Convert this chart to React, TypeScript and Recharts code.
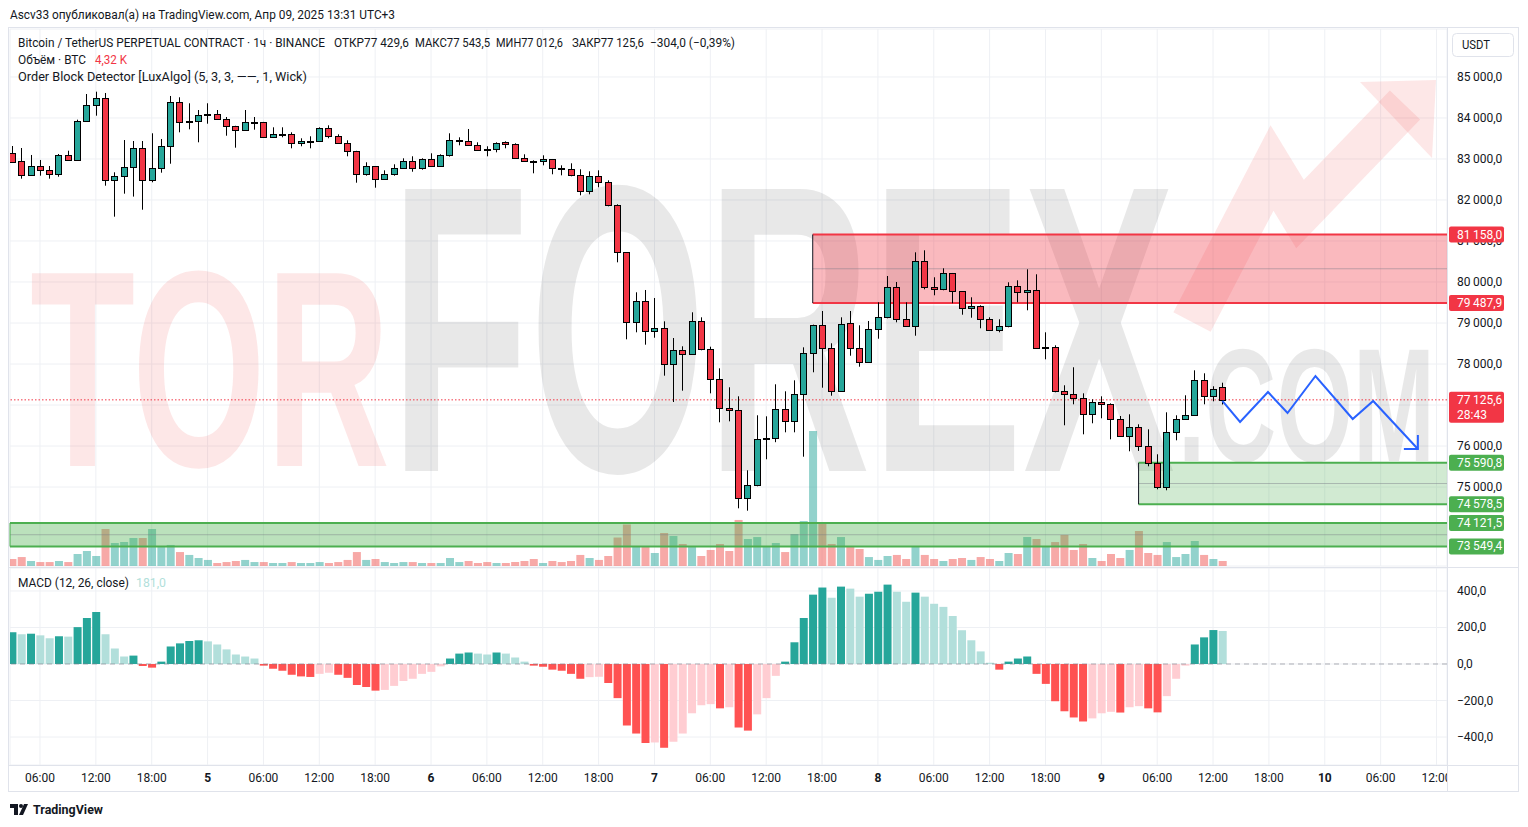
import React from "react";
import {
  ComposedChart,
  Bar,
  Line,
  XAxis,
  YAxis,
  CartesianGrid,
  ReferenceArea,
  ReferenceLine,
  Cell,
} from "recharts";

// ---------------- data ----------------
const openP = [
  83139, 82944, 82602, 82822, 82724, 82627, 83098, 82970, 83927, 84317,
  84480, 82480, 82578, 82798, 83261, 82480, 82773, 83310, 84383, 83920,
  83930, 84080, 84090, 83968, 83798, 83700, 83890, 83895, 83529, 83600,
  83602, 83383, 83430, 83432, 83749, 83554, 83383, 83188, 82641, 82822,
  82520, 82641, 82773, 82944, 82773, 82993, 82822, 83090, 83450, 83432,
  83334, 83236, 83236, 83407, 83359, 83017, 82950, 82944, 82993, 82775,
  82749, 82602, 82212, 82578, 82432, 81871, 80724, 79017, 79529, 78798,
  78871, 77993, 78334, 78237, 79041, 78359, 77627, 76920, 76871, 74724,
  75041, 76170, 76190, 76895, 76602, 77261, 78261, 78944, 78383, 77334,
  78993, 78383, 78041, 78846, 79139, 79871, 79090, 78920, 80505, 79871,
  79822, 80212, 79773, 79359, 79407, 79090, 78822, 78920, 79895, 79749,
  79798, 78400, 78407, 77334, 77261, 77163, 76773, 77066, 77017, 76651,
  76237, 76456, 75993, 75578, 74993, 76334, 76651, 76749, 77602, 77212,
  77429.6,
];
const highP = [
  83317, 83268, 83098, 82976, 82829, 83122, 83202, 83959, 84585, 84642,
  84610, 82676, 83463, 83439, 83439, 83627, 83488, 84537, 84505, 84359,
  84195, 84359, 84195, 84024, 83810, 84195, 84024, 83905, 83773, 83773,
  83651, 83505, 83554, 83773, 83822, 83602, 83456, 83200, 82920, 82830,
  82724, 82871, 83017, 83066, 83017, 83139, 83115, 83627, 83529, 83732,
  83407, 83310, 83407, 83432, 83383, 83115, 82968, 83090, 83000, 82846,
  82895, 82749, 82700, 82724, 82480, 81895, 80730, 79749, 79805, 79610,
  79041, 78634, 78432, 79261, 79139, 78422, 77895, 77432, 77212, 75407,
  76749, 76724, 77505, 77334, 77602, 78407, 78960, 79293, 78505, 79139,
  79293, 78944, 79049, 79505, 80146, 80000, 79505, 80724, 80773, 80115,
  80334, 80220, 79780, 79627, 79432, 79139, 79090, 79993, 80041, 80310,
  80188, 78773, 78456, 77481, 77920, 77285, 77139, 77212, 77041, 76732,
  76773, 76529, 76407, 75798, 76822, 76749, 77237, 77846, 77773, 77456,
  77543.5,
];
const lowP = [
  82920, 82520, 82590, 82593, 82520, 82568, 82960, 82960, 83920, 84056,
  82349, 81593, 82154, 82083, 81763, 82432, 82666, 82885, 83651, 83724,
  83407, 83861, 83960, 83568, 83276, 83690, 83715, 83520, 83520, 83529,
  83261, 83310, 83261, 83425, 83505, 83375, 83066, 82422, 82593, 82300,
  82510, 82593, 82765, 82690, 82740, 82815, 82815, 83059, 83334, 83330,
  83205, 83066, 83163, 83261, 83010, 82940, 82651, 82846, 82627, 82602,
  82578, 82115, 82139, 82310, 81846, 80480, 78602, 78773, 78471, 78641,
  77715, 77073, 77349, 78230, 78334, 77285, 76578, 76602, 74480, 74422,
  75017, 75676, 76093, 76334, 76334, 75739, 77798, 77422, 77227, 77330,
  78202, 77934, 78035, 78617, 79115, 79017, 78915, 78690, 79822, 79676,
  79798, 79481, 79202, 79129, 78871, 78815, 78773, 78895, 79505, 79310,
  78375, 78115, 77310, 76505, 77017, 76285, 76554, 76676, 76163, 76230,
  75871, 75880, 75505, 74944, 74920, 76139, 76645, 76745, 77017, 77090,
  77012.6,
];
const closeP = [
  82934, 82602, 82829, 82724, 82627, 83098, 82970, 83927, 84310, 84480,
  82480, 82578, 82798, 83261, 82480, 82773, 83310, 84383, 83895, 83935,
  84066, 84092, 83968, 83798, 83700, 83895, 83900, 83529, 83602, 83607,
  83383, 83432, 83436, 83749, 83554, 83383, 83188, 82641, 82822, 82520,
  82641, 82773, 82944, 82773, 82993, 82822, 83090, 83456, 83460, 83334,
  83212, 83212, 83400, 83359, 83017, 82944, 82944, 82993, 82773, 82770,
  82602, 82212, 82578, 82432, 81871, 80724, 79017, 79529, 78798, 78871,
  77993, 78334, 78237, 79041, 78359, 77627, 76920, 76871, 74724, 75041,
  76163, 76190, 76895, 76602, 77261, 78261, 78944, 78383, 77334, 78968,
  78383, 78041, 78846, 79139, 79871, 79090, 78920, 80505, 79871, 79822,
  80212, 79773, 79359, 79407, 79090, 78822, 78920, 79895, 79749, 79798,
  78383, 78410, 77334, 77261, 77163, 76773, 77066, 77017, 76651, 76237,
  76456, 75993, 75578, 74993, 76334, 76651, 76749, 77602, 77212, 77383,
  77125.6,
];
// volume, thousands of BTC
const volumeK = [
  6.0, 7.7, 4.3, 3.4, 3.4, 4.3, 3.4, 10.3, 12.9, 8.6,
  31.8, 19.8, 20.6, 24.1, 24.1, 31.8, 16.3, 18.1, 12.0, 9.5,
  6.9, 5.2, 2.6, 3.4, 4.3, 5.2, 3.4, 3.4, 2.6, 2.6,
  3.4, 2.6, 2.6, 3.4, 2.6, 3.4, 5.2, 12.0, 5.2, 6.0,
  3.4, 2.6, 3.4, 3.4, 2.6, 2.6, 2.6, 6.9, 3.4, 4.3,
  2.6, 3.4, 2.6, 2.6, 3.4, 4.3, 6.0, 2.6, 4.3, 3.4,
  4.3, 9.5, 6.9, 5.2, 8.6, 24.5, 35.7, 17.2, 16.3, 11.2,
  28.4, 25.8, 18.9, 16.3, 8.6, 13.8, 18.9, 12.9, 39.6, 23.2,
  24.9, 16.3, 19.8, 12.0, 27.5, 38.7, 116.1, 37.8, 18.9, 24.9,
  16.3, 14.6, 7.7, 5.2, 8.6, 9.5, 6.0, 16.3, 9.5, 6.0,
  4.3, 6.0, 6.9, 5.2, 7.7, 6.0, 4.3, 11.2, 10.3, 24.9,
  23.2, 16.3, 20.6, 26.7, 13.8, 18.9, 6.9, 4.3, 10.3, 6.9,
  13.8, 30.1, 11.2, 9.5, 20.6, 7.7, 10.3, 21.5, 9.5, 6.0,
  4.32,
];
const macdHist = [
  174, 163, 166, 157, 141, 152, 150, 202, 252, 285,
  163, 85, 41, 46, -11, -20, 13, 96, 113, 126,
  130, 124, 107, 80, 52, 41, 30, -9, -26, -37,
  -59, -68, -71, -54, -48, -59, -76, -115, -126, -146,
  -142, -120, -93, -81, -54, -43, -13, 30, 57, 63,
  57, 52, 63, 57, 35, 13, -9, -15, -31, -37,
  -54, -81, -72, -70, -104, -187, -337, -381, -433, -430,
  -459, -426, -381, -270, -226, -220, -243, -237, -348, -365,
  -276, -187, -65, 13, 119, 252, 380, 419, 363, 424,
  413, 369, 385, 396, 435, 396, 341, 391, 369, 330,
  313, 263, 185, 130, 69, 7, -31, 13, 30, 41,
  -54, -109, -204, -259, -293, -315, -298, -270, -262, -266,
  -237, -231, -243, -265, -176, -81, -9, 107, 146, 186,
  181,
];
const timeTickIdx = [
  3, 9, 15, 21, 27, 33, 39, 45, 51, 57, 63, 69, 75, 81, 87, 93, 99, 105, 111,
  117, 123, 129, 135, 141, 147, 153,
];
const timeTickLabels = [
  "06:00", "12:00", "18:00", "5", "06:00", "12:00", "18:00", "6", "06:00",
  "12:00", "18:00", "7", "06:00", "12:00", "18:00", "8", "06:00", "12:00",
  "18:00", "9", "06:00", "12:00", "18:00", "10", "06:00", "12:00",
];
const dayLabels = ["5", "6", "7", "8", "9", "10"];
const priceTicks = [75000, 76000, 77000, 78000, 79000, 80000, 81000, 82000, 83000, 84000, 85000];
const macdTicks = [400, 200, 0, -200, -400];

// order blocks: [startIndex, bottom, top]
const bearOB = [86, 79487.9, 81158.0];
const bullOB1 = [121, 74578.5, 75590.8];
const bullOB2 = [-0.2223, 73549.4, 74121.5];
const lastPrice = 77125.6;
const countdown = "28:43";

// projection drawing (bar index, price)
const projIdx = [130, 131.9, 134.9, 137.0, 140.0, 144.0, 146.2, 151.0];
const projPrice = [77100, 76585, 77317, 76805, 77707, 76659, 77098, 75927];

// --------------- layout / style ---------------
const X_MIN = -0.2223;
const X_MAX = 154.128;
const P_MIN = 73073.2;
const P_MAX = 86170.7;
const M_MIN = -553.4;
const M_MAX = 526;
const VOL_MAX = 461.8;

const FONT = "Roboto, 'Noto Sans', sans-serif";
const TXT = "#131722";
const UP = "#26a69a";
const DOWN = "#f23645";
const GRID = "#eef0f4";
const GREEN = "#4caf50";

const mainMargin = { top: 29, right: 10, bottom: 1, left: 10 };

const fmtPrice = (v: number) => {
  const [ip, dp] = v.toFixed(1).split(".");
  return ip.replace(/\B(?=(\d{3})+(?!\d))/g, "\u2009") + "," + dp;
};
const fmtMacd = (v: number) =>
  (v < 0 ? "\u2212" : "") + Math.abs(v).toFixed(1).replace(".", ",");

const AxisTick = (props: any) => {
  const { x, y, payload, fmt } = props;
  return (
    <text x={x} y={y} dy={4} textAnchor="start" fontSize={12} fontFamily={FONT} fill={TXT}>
      {fmt(payload.value)}
    </text>
  );
};

const CandleShape = (props: any) => {
  const { x, y, width, height, payload } = props;
  if (!payload || x == null || y == null) return <g />;
  const { o, h, l, c } = payload;
  const span = h - l || 1;
  const py = (p: number) => y + ((h - p) / span) * height;
  const cx = Math.round(x + width / 2) + 0.5;
  const top = Math.round(py(Math.max(o, c))) + 0.5;
  const bot = Math.round(py(Math.min(o, c))) + 0.5;
  const bh = Math.max(bot - top, 1);
  const bw = 6;
  return (
    <g>
      <line x1={cx} x2={cx} y1={y} y2={y + height} stroke="#000" strokeWidth={1} />
      <rect x={cx - bw / 2} y={top} width={bw} height={bh} fill={c >= o ? UP : DOWN} stroke="#000" strokeWidth={1} />
    </g>
  );
};

const PriceTag = (props: any) => {
  const { viewBox, text, color, sub } = props;
  if (!viewBox) return <g />;
  const x = viewBox.x + viewBox.width + 2;
  const y = viewBox.y;
  const h = sub ? 31 : 16;
  return (
    <g>
      <rect x={x} y={y - 8} width={55} height={h} rx={2} fill={color} />
      <text x={x + 8} y={y + 4} fill="#fff" fontSize={12} fontFamily={FONT}>
        {text}
      </text>
      {sub ? (
        <text x={x + 8} y={y + 19} fill="#fff" fontSize={12} fontFamily={FONT}>
          {sub}
        </text>
      ) : null}
    </g>
  );
};

const ArrowDot = (props: any) => {
  const { cx, cy, index } = props;
  if (index !== projIdx.length - 1 || cx == null) return <g key={"d" + index} />;
  return (
    <path key={"d" + index} d={`M${cx - 14},${cy} L${cx},${cy} L${cx},${cy - 14}`} stroke="#2962ff" strokeWidth={2} fill="none" />
  );
};

const TimeTick = (props: any) => {
  const { x, y, payload } = props;
  const k = timeTickIdx.indexOf(payload.value);
  const label = k >= 0 ? timeTickLabels[k] : "";
  const bold = dayLabels.includes(label);
  return (
    <text x={x} y={y} dy="0.71em" textAnchor="middle" fontSize={12} fontFamily={FONT} fill={TXT} fontWeight={bold ? 700 : 400}>
      {label}
    </text>
  );
};

const layer: React.CSSProperties = { position: "absolute", left: 0, top: 0 };

function OBBlock(ob: number[], fill: string, op: number, edge: string, lineCol: string) {
  const [s, b, t] = ob;
  const mid = (b + t) / 2;
  return [
    <ReferenceArea key={"a" + s} x1={s} x2={X_MAX} y1={b} y2={t} fill={fill} fillOpacity={op} stroke="none" />,
    <ReferenceLine key={"m" + s} segment={[{ x: s, y: mid }, { x: X_MAX, y: mid }]} stroke="#787b86" strokeOpacity={0.45} strokeWidth={1} />,
    <ReferenceLine key={"t" + s} segment={[{ x: s, y: t }, { x: X_MAX, y: t }]} stroke={lineCol} strokeWidth={2} />,
    <ReferenceLine key={"b" + s} segment={[{ x: s, y: b }, { x: X_MAX, y: b }]} stroke={lineCol} strokeWidth={2} />,
    <ReferenceLine key={"e" + s} segment={[{ x: s, y: b }, { x: s, y: t }]} stroke={edge} strokeWidth={1} />,
    <ReferenceLine key={"lt" + s} y={t} stroke="none" label={<PriceTag text={fmtPrice(t)} color={lineCol} />} />,
    <ReferenceLine key={"lb" + s} y={b} stroke="none" label={<PriceTag text={fmtPrice(b)} color={lineCol} />} />,
  ];
}

export default function App() {
  const candles = openP.map((o, i) => ({
    i,
    o,
    h: highP[i],
    l: lowP[i],
    c: closeP[i],
    v: volumeK[i],
    m: macdHist[i],
  }));
  const proj = projIdx.map((i, k) => ({ i, p: projPrice[k] }));
  const macdColor = (k: number) => {
    const v = macdHist[k];
    const prev = k > 0 ? macdHist[k - 1] : v;
    if (v >= 0) return v >= prev ? "#26a69a" : "#b2dfdb";
    return v <= prev ? "#ff5252" : "#ffcdd2";
  };

  const xAxisHidden = (
    <XAxis dataKey="i" type="number" domain={[X_MIN, X_MAX]} ticks={timeTickIdx} hide height={0} allowDataOverflow />
  );
  const yAxisBlank = (
    <YAxis orientation="right" domain={[P_MIN, P_MAX]} width={71} tick={false} axisLine={false} tickLine={false} allowDataOverflow />
  );

  return (
    <div style={{ position: "absolute", left: 0, top: 0, width: 1528, height: 827, background: "#fff", fontFamily: FONT }}>
      {/* Layer A: grid + price axis */}
      <div style={layer}>
        <ComposedChart width={1528} height={567} data={candles} margin={mainMargin}>
          <CartesianGrid stroke={GRID} />
          {xAxisHidden}
          <YAxis
            orientation="right"
            domain={[P_MIN, P_MAX]}
            ticks={priceTicks}
            width={71}
            axisLine={false}
            tickLine={false}
            tickMargin={4}
            tick={(p: any) => <AxisTick {...p} fmt={fmtPrice} />}
            allowDataOverflow
          />
          <Line dataKey="c" stroke="none" dot={false} activeDot={false} isAnimationActive={false} />
        </ComposedChart>
      </div>

      {/* Watermark */}
      <svg width={1528} height={827} style={layer}>
        <g fontFamily="'Liberation Sans', Arial, sans-serif" fontWeight={700}>
          <text x={30} y={466} fontSize={280} textLength={360} lengthAdjust="spacingAndGlyphs" fill="rgba(236,60,60,0.12)">
            TOR
          </text>
          <text x={390} y={471} fontSize={410} textLength={785} lengthAdjust="spacingAndGlyphs" fill="rgba(0,0,0,0.09)">
            FOREX
          </text>
          <text x={1178} y={461} fontSize={162} textLength={257} lengthAdjust="spacingAndGlyphs" fill="rgba(0,0,0,0.09)">
            .COM
          </text>
        </g>
        <polyline points="1192,322 1272,168 1300,214 1405,105" fill="none" stroke="rgba(236,60,60,0.12)" strokeWidth={42} strokeLinejoin="miter" />
        <polygon points="1360,82 1436,80 1432,158" fill="rgba(236,60,60,0.12)" />
      </svg>

      {/* Layer B: volume */}
      <div style={layer}>
        <ComposedChart width={1528} height={567} data={candles} margin={mainMargin}>
          {xAxisHidden}
          <YAxis orientation="right" domain={[0, VOL_MAX]} width={71} tick={false} axisLine={false} tickLine={false} />
          <Bar dataKey="v" barSize={8} isAnimationActive={false}>
            {candles.map((d, k) => (
              <Cell key={k} fill={d.c >= d.o ? "rgba(38,166,154,0.5)" : "rgba(239,83,80,0.5)"} />
            ))}
          </Bar>
        </ComposedChart>
      </div>

      {/* Layer C: order blocks + last price */}
      <div style={layer}>
        <ComposedChart width={1528} height={567} data={candles} margin={mainMargin}>
          {xAxisHidden}
          {yAxisBlank}
          <Line dataKey="c" stroke="none" dot={false} activeDot={false} isAnimationActive={false} />
          {OBBlock(bearOB, "#f23645", 0.35, "#131722", "#f23645")}
          {OBBlock(bullOB1, GREEN, 0.26, "#131722", GREEN)}
          {OBBlock(bullOB2, GREEN, 0.38, GREEN, GREEN)}
          <ReferenceLine
            y={lastPrice}
            stroke="#f23645"
            strokeDasharray="1.5 2"
            strokeWidth={1}
            label={<PriceTag text={fmtPrice(lastPrice)} color="#f23645" sub={countdown} />}
          />
        </ComposedChart>
      </div>

      {/* Layer D: candles + projection */}
      <div style={layer}>
        <ComposedChart width={1528} height={567} data={candles} margin={mainMargin}>
          {xAxisHidden}
          {yAxisBlank}
          <Bar
            dataKey={(d: any) => [d.l, d.h]}
            barSize={7}
            shape={(p: any) => <CandleShape {...p} />}
            isAnimationActive={false}
          />
          <Line
            data={proj}
            dataKey="p"
            stroke="#2962ff"
            strokeWidth={2}
            dot={ArrowDot}
            activeDot={false}
            isAnimationActive={false}
            type="linear"
          />
        </ComposedChart>
      </div>

      {/* MACD pane */}
      <div style={{ position: "absolute", left: 0, top: 568 }}>
        <ComposedChart width={1528} height={223} data={candles} margin={{ top: 0, right: 10, bottom: 0, left: 10 }}>
          <CartesianGrid stroke={GRID} />
          <XAxis
            dataKey="i"
            type="number"
            domain={[X_MIN, X_MAX]}
            ticks={timeTickIdx}
            height={26}
            axisLine={false}
            tickLine={false}
            tick={(p: any) => <TimeTick {...p} />}
            interval={0}
            allowDataOverflow
          />
          <YAxis
            orientation="right"
            domain={[M_MIN, M_MAX]}
            ticks={macdTicks}
            width={71}
            axisLine={false}
            tickLine={false}
            tickMargin={4}
            tick={(p: any) => <AxisTick {...p} fmt={fmtMacd} />}
            allowDataOverflow
          />
          <ReferenceLine y={0} stroke="#787b86" strokeOpacity={0.6} strokeDasharray="5 4" />
          <Bar dataKey="m" barSize={8} isAnimationActive={false}>
            {candles.map((d, k) => (
              <Cell key={k} fill={macdColor(k)} />
            ))}
          </Bar>
        </ComposedChart>
      </div>

      {/* Overlay: frame, texts */}
      <svg width={1528} height={827} style={layer}>
        <g stroke="#e0e3eb" strokeWidth={1} fill="none">
          <rect x={8.5} y={27.5} width={1510} height={764} />
          <line x1={8} x2={1519} y1={567.5} y2={567.5} />
          <line x1={8} x2={1519} y1={765.5} y2={765.5} />
          <line x1={1447.5} x2={1447.5} y1={28} y2={791} />
        </g>
        <rect x={1448} y={766} width={70} height={25} fill="#fff" />
        <g fontFamily={FONT} fontSize={12} fill={TXT}>
          <text x={10} y={18.5} textLength={385} lengthAdjust="spacingAndGlyphs">
            Ascv33 опубликовал(а) на TradingView.com, Апр 09, 2025 13:31 UTC+3
          </text>
          <text x={18} y={46.5} textLength={307} lengthAdjust="spacingAndGlyphs">
            Bitcoin / TetherUS PERPETUAL CONTRACT · 1ч · BINANCE
          </text>
          <text x={334} y={46.5} textLength={75} lengthAdjust="spacingAndGlyphs">
            ОТКР77 429,6
          </text>
          <text x={415} y={46.5} textLength={75} lengthAdjust="spacingAndGlyphs">
            МАКС77 543,5
          </text>
          <text x={496} y={46.5} textLength={67} lengthAdjust="spacingAndGlyphs">
            МИН77 012,6
          </text>
          <text x={572} y={46.5} textLength={72} lengthAdjust="spacingAndGlyphs">
            ЗАКР77 125,6
          </text>
          <text x={650} y={46.5} textLength={85} lengthAdjust="spacingAndGlyphs">
            −304,0 (−0,39%)
          </text>
          <text x={18} y={63.5} textLength={68} lengthAdjust="spacingAndGlyphs">
            Объём · BTC
          </text>
          <text x={95} y={63.5} textLength={32} lengthAdjust="spacingAndGlyphs" fill="#f23645">
            4,32 K
          </text>
          <text x={18} y={80.5} textLength={289} lengthAdjust="spacingAndGlyphs">
            Order Block Detector [LuxAlgo] (5, 3, 3, ——, 1, Wick)
          </text>
          <text x={18} y={586.5} textLength={111} lengthAdjust="spacingAndGlyphs">
            MACD (12, 26, close)
          </text>
          <text x={136} y={586.5} textLength={30} lengthAdjust="spacingAndGlyphs" fill="#b2dfdb">
            181,0
          </text>
          <rect x={1452.5} y={33.5} width={61} height={23} rx={4} fill="#fff" stroke="#e0e3eb" />
          <text x={1462} y={49} textLength={28} lengthAdjust="spacingAndGlyphs">
            USDT
          </text>
          {/* TradingView logo */}
          <g fill="#131722">
            <rect x={10} y={804} width={8} height={4} />
            <rect x={14} y={804} width={4} height={11} />
            <circle cx={21} cy={806} r={2} />
            <polygon points="24,804 28,804 23,815 19,815" />
          </g>
          <text x={33} y={814} fontSize={13} fontWeight={700} textLength={70} lengthAdjust="spacingAndGlyphs">
            TradingView
          </text>
        </g>
      </svg>
    </div>
  );
}
